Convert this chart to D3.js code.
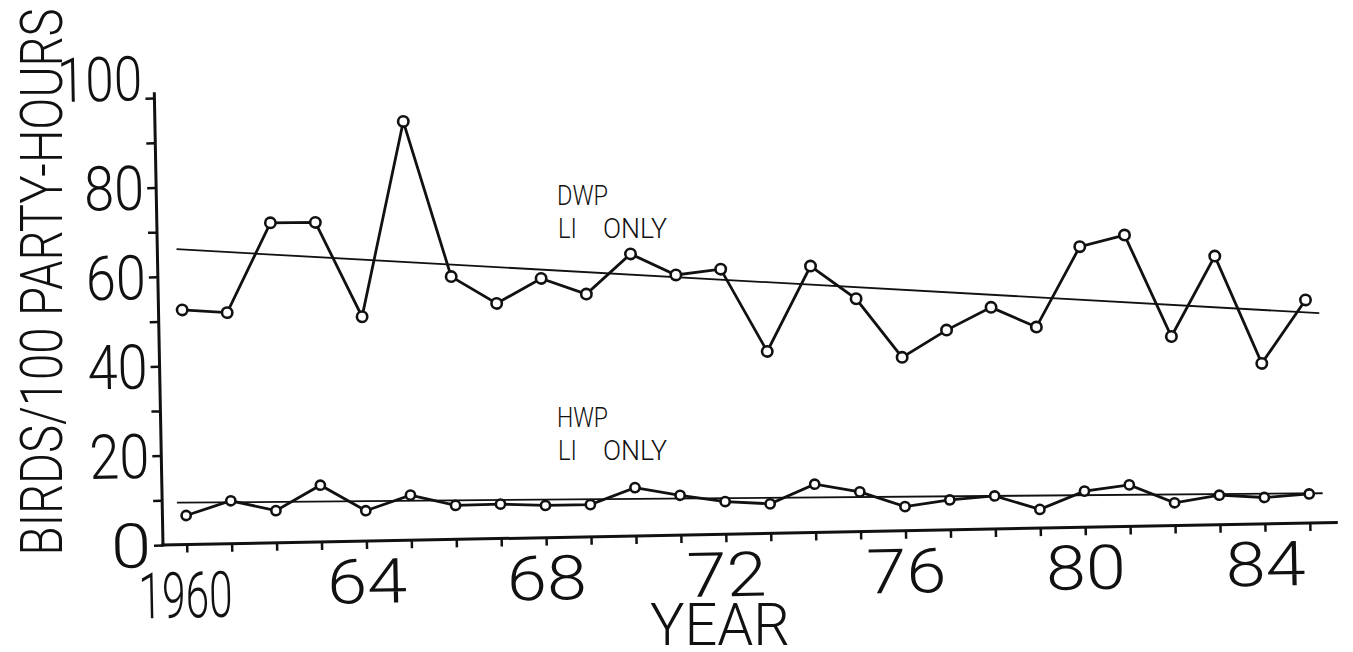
<!DOCTYPE html>
<html>
<head>
<meta charset="utf-8">
<script src="https://cdn.jsdelivr.net/npm/d3@7/dist/d3.min.js"></script>
<style>
  body { margin: 0; background: #fff; }
  text { font-family: Roboto, "Liberation Sans", Arial, sans-serif; font-weight: 300; fill: #111; }
</style>
</head>
<body>
<svg id="chart" width="1353" height="652"></svg>
<script>
// values
const years = [1960, 1961, 1962, 1963, 1964, 1965, 1966, 1967, 1968, 1969,
  1970, 1971, 1972, 1973, 1974, 1975, 1976, 1977, 1978, 1979,
  1980, 1981, 1982, 1983, 1984, 1985];
const dwp = [52.5, 51.7, 71.6, 71.5, 50.2, 93.7, 58.8, 52.6, 58.0, 54.3,
  63.1, 58.2, 59.3, 40.7, 59.6, 52.1, 38.8, 44.7, 49.6, 45.0,
  62.8, 65.2, 42.3, 60.1, 35.9, 49.9];
const hwp = [6.5, 9.6, 7.2, 12.7, 6.8, 10.1, 7.6, 7.7, 7.2, 7.2,
  10.8, 8.9, 7.3, 6.6, 10.8, 8.9, 5.4, 6.7, 7.4, 4.2,
  8.1, 9.3, 5.1, 6.6, 5.9, 6.5];
const dwpTrend = [[1959.9, 66.1], [1985.3, 46.9]];
const hwpTrend = [[1959.8, 9.4], [1985.3, 6.6]];
const yTicks = [0, 10, 20, 30, 40, 50, 60, 70, 80, 90, 100];
const yLabels = ["0", "20", "40", "60", "80", "100"];
const xLabelYears = [1960, 1964, 1968, 1972, 1976, 1980, 1984];
const xLabels = ["1960", "64", "68", "72", "76", "80", "84"];

const svg = d3.select("#chart");

// the scan is tilted a little, so the whole plot frame is rotated
const plot = svg.append("g")
  .attr("transform", "translate(163,545) rotate(-1.1)");

const x = d3.scaleLinear().domain([1960, 1985]).range([23.7, 1147]);
const y = d3.scaleLinear().domain([0, 100]).range([0, -447]);

// axes
plot.append("g")
  .call(d3.axisBottom(x).tickValues(years).tickSize(8).tickFormat(""))
  .call(g => g.select(".domain").remove())
  .selectAll("line").attr("stroke", "#111").attr("stroke-width", 2.5);

plot.append("g")
  .call(d3.axisLeft(y).tickValues(yTicks).tickSize(9).tickFormat(""))
  .call(g => g.select(".domain").remove())
  .selectAll("line").attr("stroke", "#111").attr("stroke-width", 2.5);

plot.append("line")
  .attr("x1", -2).attr("x2", 1175).attr("y1", 0).attr("y2", 0)
  .attr("stroke", "#111").attr("stroke-width", 3);
plot.append("line")
  .attr("x1", 0).attr("x2", 0).attr("y1", 1.5).attr("y2", y(101.3))
  .attr("stroke", "#111").attr("stroke-width", 3);

// tick labels
const yLab = plot.append("g");
yLabels.forEach(s => {
  const v = +s;
  const w = s.length === 1 ? 40 : (s.length === 2 ? 60 : 85);
  yLab.append("text")
    .attr("x", -12)
    .attr("y", v === 100 ? y(v) + 2 : y(v) + 22)
    .attr("text-anchor", "end")
    .attr("font-size", 62)
    .attr("textLength", w)
    .attr("lengthAdjust", "spacingAndGlyphs")
    .text(s);
});

const xLab = plot.append("g");
xLabelYears.forEach((yr, i) => {
  const s = xLabels[i];
  xLab.append("text")
    .attr("x", x(yr) - (i === 0 ? 2 : 0))
    .attr("y", i === 0 ? 73 : 62)
    .attr("text-anchor", "middle")
    .attr("font-size", i === 0 ? 64 : 62)
    .attr("textLength", s.length === 4 ? 94 : 80)
    .attr("lengthAdjust", "spacingAndGlyphs")
    .text(s);
});

// trend lines
const line = d3.line().x(d => x(d[0])).y(d => y(d[1]));
[dwpTrend, hwpTrend].forEach(t => {
  plot.append("path")
    .attr("d", line(t))
    .attr("fill", "none")
    .attr("stroke", "#111")
    .attr("stroke-width", 1.8);
});

// series
function drawSeries(vals, r) {
  const pts = years.map((yr, i) => [yr, vals[i]]);
  plot.append("path")
    .attr("d", line(pts))
    .attr("fill", "none")
    .attr("stroke", "#111")
    .attr("stroke-width", 2.8);
  plot.append("g").selectAll("circle")
    .data(pts)
    .enter()
    .append("circle")
    .attr("cx", d => x(d[0]))
    .attr("cy", d => y(d[1]))
    .attr("r", r)
    .attr("fill", "#fff")
    .attr("stroke", "#111")
    .attr("stroke-width", 2.6);
}
drawSeries(dwp, 5.2);
drawSeries(hwp, 4.6);

// annotations: name on one line, "LI   ONLY" below with a wide gap
function note(px, py, name) {
  const t = (s, tx, ty, w) => svg.append("text")
    .attr("x", tx).attr("y", ty)
    .attr("font-size", 28)
    .attr("font-weight", 400)
    .attr("textLength", w)
    .attr("lengthAdjust", "spacingAndGlyphs")
    .text(s);
  t(name, px, py, 51);
  t("LI", px + 1, py + 33, 19);
  t("ONLY", px + 46, py + 33, 64);
}
note(557, 205, "DWP");
note(557, 427, "HWP");

// axis titles
svg.append("text")
  .attr("x", 720).attr("y", 645)
  .attr("text-anchor", "middle")
  .attr("font-size", 60)
  .attr("textLength", 140)
  .attr("lengthAdjust", "spacingAndGlyphs")
  .text("YEAR");

svg.append("text")
  .attr("transform", "translate(62,282) rotate(-90)")
  .attr("text-anchor", "middle")
  .attr("font-size", 60)
  .attr("textLength", 547)
  .attr("lengthAdjust", "spacingAndGlyphs")
  .text("BIRDS/100 PARTY-HOURS");
</script>
</body>
</html>
